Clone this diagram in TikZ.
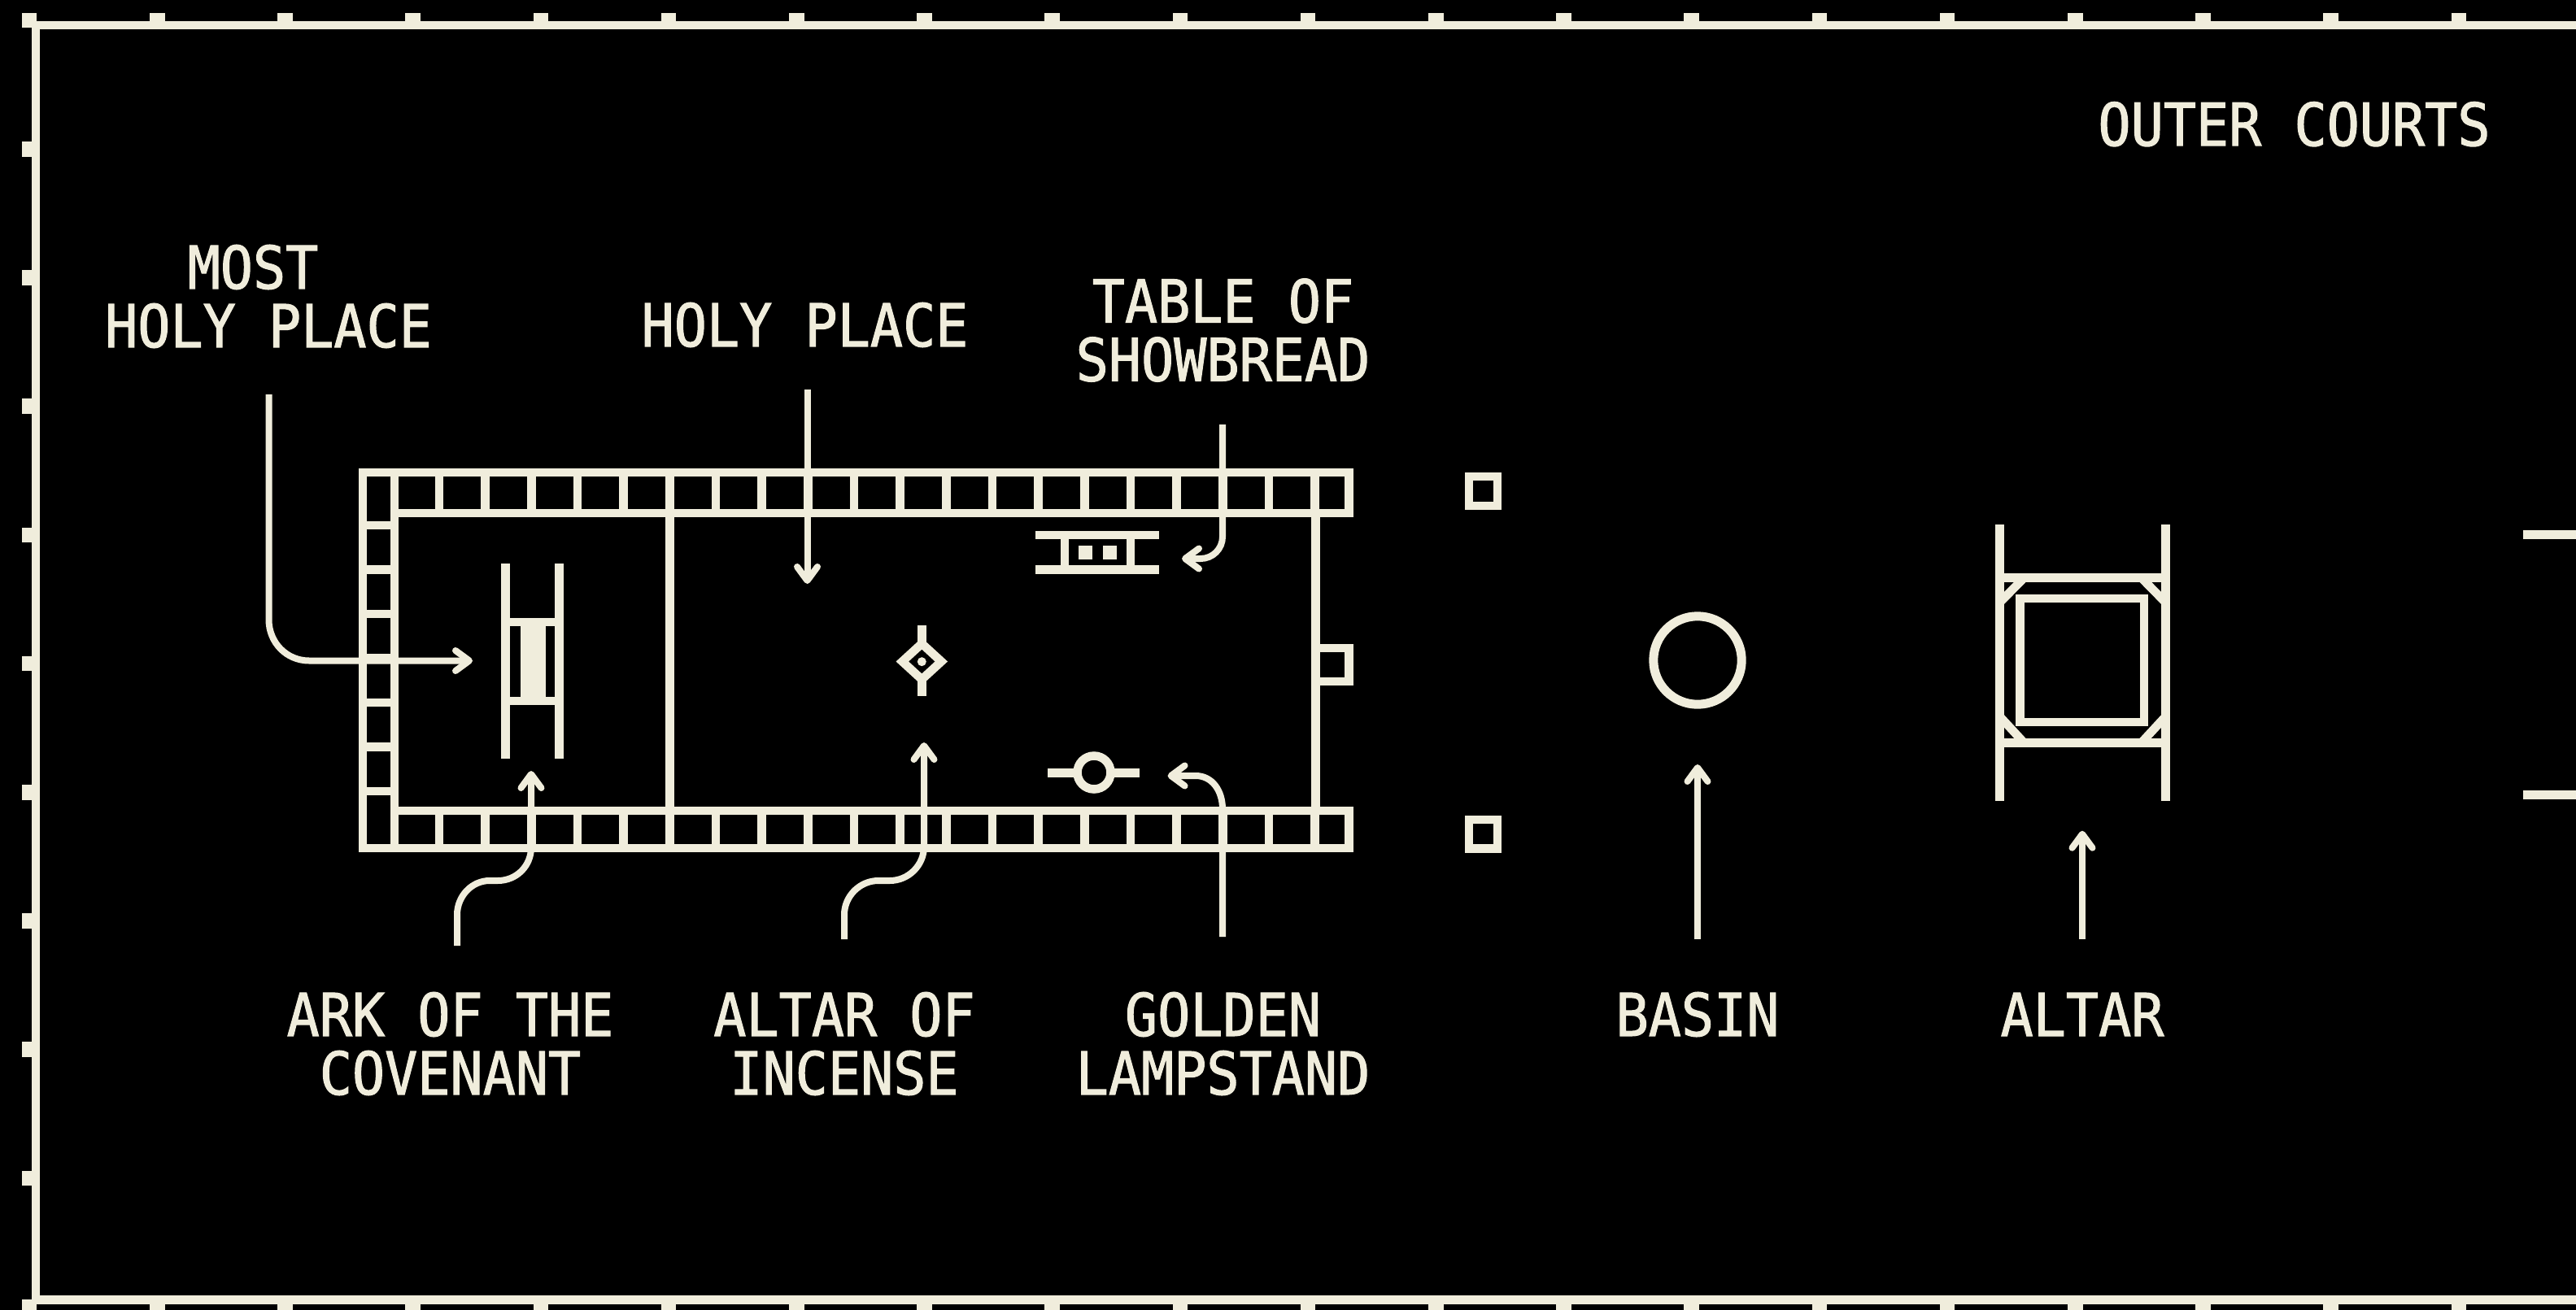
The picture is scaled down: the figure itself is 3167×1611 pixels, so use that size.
\documentclass[tikz,border=0pt]{standalone}
\usepackage{fontspec}
\usetikzlibrary{arrows.meta}
\newfontfamily\lblfont[FakeStretch=0.918,FakeBold=1.5]{DejaVu Sans Mono}
\definecolor{cream}{HTML}{F0EDDC}
\tikzset{
  wall/.style={draw=cream,line width=10.5pt,line cap=butt,line join=miter},
  fillc/.style={fill=cream,draw=none},
  conn/.style={draw=cream,line width=8pt,line cap=butt,-{Straight Barb[length=17pt,width=25pt,round]}},
  lbl/.style={text=cream,inner sep=0pt,align=center,anchor=center,font=\lblfont\fontsize{72.7}{72}\selectfont},
}
\begin{document}
\begin{tikzpicture}[x=1pt,y=-1pt]
\fill[black] (0,0) rectangle (3167,1611);
\useasboundingbox (0,0) rectangle (3167,1611);
\begin{scope}
\clip (0,0) rectangle (3167,1611);
% frame
\draw[wall] (3167,31) -- (44,31) -- (44,1598.5) -- (3167,1598.5);
\foreach \n in {0,...,20}{
  \pgfmathsetmacro\tx{36+157.2*\n}
  \fill[cream] (\tx-9.3,15.7) rectangle (\tx+9.3,34);
  \fill[cream] (\tx-9.3,1597.7) rectangle (\tx+9.3,1616);
}
\foreach \n in {1,...,9}{
  \pgfmathsetmacro\ty{25+158.2*\n}
  \fill[cream] (26.7,\ty-9.3) rectangle (45,\ty+9.3);
}
% building
\draw[wall] (1658.5,636) -- (1658.5,581) -- (446,581) -- (446,1043) -- (1658.5,1043) -- (1658.5,992);
\draw[wall] (485,576) -- (485,1048);
\draw[wall] (485,631) -- (1663.5,631);
\draw[wall] (485,997) -- (1663.5,997);
\foreach \n in {0,...,19}{
  \pgfmathsetmacro\bx{540+56.67*\n}
  \draw[wall] (\bx,576) -- (\bx,636);
  \draw[wall] (\bx,992) -- (\bx,1048);
}
\foreach \y in {646,700.5,755,809.5,864,918.5,973}{
  \draw[wall] (441,\y) -- (490,\y);
}
\draw[wall] (823.3,631) -- (823.3,997);
\draw[wall] (1617.5,631) -- (1617.5,997);
\draw[wall] (1617.5,797) rectangle (1658.5,838);
% pillars
\draw[wall] (1806,586) rectangle (1841,622);
\draw[wall] (1806,1008) rectangle (1841,1043.5);
% ark
\draw[wall] (621.3,693) -- (621.3,932.6);
\draw[wall] (687.7,693) -- (687.7,932.6);
\draw[wall] (621.3,765) -- (687.7,765);
\draw[wall] (621.3,862) -- (687.7,862);
\fill[cream] (640,765) rectangle (670.7,862);
% table
\draw[wall] (1273,658) -- (1425,658);
\draw[wall] (1273,700.7) -- (1425,700.7);
\draw[wall] (1309,658) -- (1309,700.7);
\draw[wall] (1390,658) -- (1390,700.7);
\fill[cream] (1326,671) rectangle (1343,688);
\fill[cream] (1356,671) rectangle (1373,688);
% incense altar
\draw[wall] (1133.3,769) -- (1133.3,792);
\draw[wall] (1133.3,835) -- (1133.3,856);
\draw[wall] (1133.3,791.5) -- (1157.3,813.5) -- (1133.3,835.5) -- (1109.3,813.5) -- cycle;
\fill[cream] (1133.3,813.7) circle (5.5);
% lampstand
\draw[wall] (1288,950.5) -- (1401,950.5);
\draw[wall,fill=black] (1345,950) circle (20.5);
% basin
\draw[wall,line width=11pt] (2087,812) circle (54.2);
% altar
\draw[wall] (2458.5,645) -- (2458.5,985);
\draw[wall] (2662.5,645) -- (2662.5,985);
\draw[wall] (2458.5,710.5) -- (2662.5,710.5);
\draw[wall] (2458.5,913.5) -- (2662.5,913.5);
\draw[wall] (2483.5,736) rectangle (2636,888);
\draw[wall] (2488.5,710.5) -- (2458.5,741);
\draw[wall] (2632.5,710.5) -- (2662.5,741);
\draw[wall] (2488.5,913.5) -- (2458.5,881);
\draw[wall] (2632.5,913.5) -- (2662.5,881);
% outer court stubs
\draw[wall] (3102,657.5) -- (3167,657.5);
\draw[wall] (3102,977.3) -- (3167,977.3);
\end{scope}
% labels
\node[lbl] (outer) at (2820.5,152.7) {OUTER COURTS};
\node[lbl] (most) at (330,364.5) {\mbox{MOST\hspace{38pt}}\\HOLY PLACE};
\node[lbl] (holy) at (989.5,399.5) {HOLY PLACE};
\node[lbl] (tbl) at (1503.5,406) {TABLE OF\\SHOWBREAD};
\node[lbl] (ark) at (553.5,1283.5) {ARK OF THE\\COVENANT};
\node[lbl] (inc) at (1038,1283.5) {ALTAR OF\\INCENSE};
\node[lbl] (lamp) at (1503.5,1283.5) {GOLDEN\\LAMPSTAND};
\node[lbl] (bas) at (2087,1247.5) {BASIN};
\node[lbl] (alt) at (2560,1247.5) {ALTAR};
% connector ends
\coordinate (cMost) at (330.5,485);
\coordinate (tMost) at (581,812.5);
\coordinate (cHoly) at (992.5,479);
\coordinate (tHoly) at (992.5,718);
\coordinate (cTbl) at (1503,522);
\coordinate (tTbl) at (1453,687);
\coordinate (cLamp) at (1503,1152);
\coordinate (tLamp) at (1435.6,954);
\coordinate (cArk) at (562,1163);
\coordinate (tArk) at (653,948);
\coordinate (cInc) at (1038,1155);
\coordinate (tInc) at (1136,913);
\coordinate (cBas) at (2087,1155);
\coordinate (tBas) at (2087,940);
\coordinate (cAlt) at (2560,1155);
\coordinate (tAlt) at (2560,1021.7);
% connectors
\draw[conn] (cMost) -- (330.5,762) .. controls (330.5,790) and (352,812.5) .. (380,812.5) -- (tMost);
\draw[conn] (cHoly) -- (tHoly);
\draw[conn] (cTbl) -- (1503,660) .. controls (1503,675) and (1491,687) .. (1476,687) -- (tTbl);
\draw[conn] (cLamp) -- (1503,995) .. controls (1503,972) and (1490,954) .. (1470,954) -- (tLamp);
\draw[conn] (cArk) -- (562,1125) .. controls (562,1102) and (580,1083) .. (602,1083) -- (612,1083) .. controls (635,1083) and (653,1065) .. (653,1042) -- (tArk);
\draw[conn] (cInc) -- (1038,1125) .. controls (1038,1102) and (1057,1083) .. (1080,1083) -- (1094,1083) .. controls (1117,1083) and (1136,1064) .. (1136,1041) -- (tInc);
\draw[conn] (cBas) -- (tBas);
\draw[conn] (cAlt) -- (tAlt);
\end{tikzpicture}
\end{document}
